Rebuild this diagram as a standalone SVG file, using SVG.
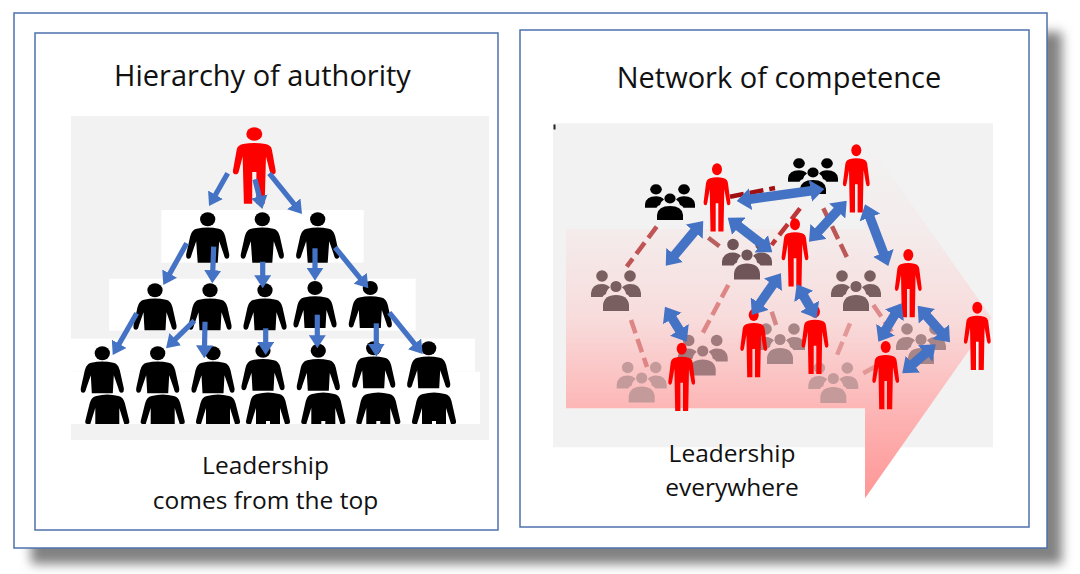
<svg xmlns="http://www.w3.org/2000/svg" xmlns:xlink="http://www.w3.org/1999/xlink" width="1080" height="574" viewBox="0 0 1080 574">
<style>
.frame{fill:#fff;stroke:#4f71ae;stroke-width:1.5}
.title{font-family:"Open Sans","Noto Sans",sans-serif;font-size:29px;fill:#111;text-anchor:middle}
.cap{font-family:"Open Sans","Noto Sans",sans-serif;font-size:24.5px;fill:#111;text-anchor:middle}
.a1{fill:none;stroke:#4472c4;stroke-width:5.2;marker-end:url(#h1)}
.a2{fill:none;stroke:#4472c4;stroke-width:9.5;marker-start:url(#h2);marker-end:url(#h2)}
.d{fill:none;stroke-width:4.5;stroke-dasharray:14 6}
.k{fill:#000}.r{fill:#f00}
</style>
<defs>
<filter id="sh" x="-5%" y="-5%" width="110%" height="110%"><feGaussianBlur stdDeviation="5.5"/></filter>
<filter id="sf" x="-10%" y="-10%" width="120%" height="120%"><feGaussianBlur stdDeviation="0.55"/></filter>
<linearGradient id="pink" gradientUnits="userSpaceOnUse" x1="0" y1="138" x2="0" y2="498">
<stop offset="0" stop-color="#f2f2f2"/><stop offset=".25" stop-color="#f4ecec"/><stop offset=".5" stop-color="#f8dcdc"/><stop offset=".75" stop-color="#fdb6b6"/><stop offset="1" stop-color="#ff9696"/>
</linearGradient>
<marker id="h1" markerUnits="userSpaceOnUse" viewBox="0 0 13 17" markerWidth="13" markerHeight="17" refX="2" refY="8.5" orient="auto"><path d="M0,0L13,8.5L0,17Z" fill="#4472c4"/></marker>
<marker id="h2" markerUnits="userSpaceOnUse" viewBox="0 0 14 22" markerWidth="14" markerHeight="22" refX="1" refY="11" orient="auto-start-reverse"><path d="M0,0L14,11L0,22Z" fill="#4472c4"/></marker>
<g id="blk">
<ellipse cx="0" cy="0" rx="7.6" ry="7"/>
<path d="M-11,9.5Q0,7 11,9.5Q16,10.5 17.5,17L21.5,35Q22,39.5 19,39.5Q17,39.5 16,35L11.5,22L10.5,40L-10.5,40L-11.5,22L-16,35Q-17,39.5 -19,39.5Q-22,39.5 -21.5,35L-17.5,17Q-16,10.5 -11,9.5Z"/>
</g>
<g id="blkT">
<ellipse cx="0" cy="0" rx="7.6" ry="7"/>
<path d="M-11,9.5Q0,7 11,9.5Q16,10.5 17.5,17L21.5,35Q22,39.5 19,39.5Q17,39.5 16,35L11.5,22L10,43.5L-10,43.5L-11.5,22L-16,35Q-17,39.5 -19,39.5Q-22,39.5 -21.5,35L-17.5,17Q-16,10.5 -11,9.5Z"/>
</g>
<path id="low" d="M-11,2Q0,-1 11,2Q16,3 17.5,9L22,27Q22.5,30 20,30L17,30L12,14L12,30L-12,30L-12,14L-17,30L-20,30Q-22.5,30 -22,27L-17.5,9Q-16,3 -11,2Z"/>
<path id="low2" d="M-11,2Q0,-1 11,2Q16,3 17.5,9L22,29Q22.5,32 20,32L17,32L12,16L12,32L2,32L2,29L-2,29L-2,32L-12,32L-12,16L-17,32L-20,32Q-22.5,32 -22,29L-17.5,9Q-16,3 -11,2Z"/>
<g id="man">
<ellipse cx="0" cy="0" rx="5" ry="6"/>
<path d="M-7,9Q0,7 7,9Q10.5,10 11,14L13.4,33Q13.4,36 11.5,36Q10,36 9.6,33L7.3,20L6.5,62.3L1.3,62.3L1.3,34L-1.3,34L-1.3,62.3L-6.5,62.3L-7.3,20L-9.6,33Q-10,36 -11.5,36Q-13.4,36 -13.4,33L-11,14Q-10.5,10 -7,9Z"/>
</g>
<g id="crowd">
<circle cx="-14" cy="6" r="5.8"/><circle cx="14" cy="6" r="5.8"/><circle cx="0" cy="16.5" r="5.6"/>
<path d="M-25,27V23Q-24,14 -14,14Q-9,14 -6,17.5Q-9.5,20 -10,24Q-12.5,25 -13.5,27Z"/>
<path d="M25,27V23Q24,14 14,14Q9,14 6,17.5Q9.5,20 10,24Q12.5,25 13.5,27Z"/>
<path d="M-13,41V35Q-12,25 0,25Q12,25 13,35V41Z"/>
</g>
</defs>

<rect x="31" y="32" width="1031" height="532" fill="#828282" filter="url(#sh)"/>
<rect class="frame" x="14" y="13" width="1033" height="535"/>

<g id="panel-left">
<rect class="frame" x="35" y="33" width="463" height="497"/>
<text class="title" x="262.5" y="86">Hierarchy of authority</text>
<rect x="71" y="116" width="418" height="324" fill="#f2f2f2"/>
<rect x="161.3" y="210" width="202.4" height="52.7" fill="#fff"/>
<rect x="109" y="278.7" width="306.7" height="52" fill="#fff"/>
<rect x="71" y="338.7" width="404" height="33" fill="#fff"/>
<rect x="71" y="371.7" width="409" height="52.3" fill="#fff"/>
<text class="cap" x="265.5" y="474">Leadership</text>
<text class="cap" x="265.5" y="509">comes from the top</text>
</g>

<g id="node-top"><g class="r"><g transform="translate(254.3,134) scale(1.6,1.12)"><use href="#man"/></g></g></g>

<g id="hierarchy-row1" class="k">
<use id="n1a" href="#blkT" x="207.7" y="219.3"/><use id="n1b" href="#blkT" x="262.3" y="219.3"/><use id="n1c" href="#blkT" x="317.7" y="219.3"/>
</g>
<g id="hierarchy-row2" class="k">
<use id="n2a" href="#blk" x="155" y="290.3"/><use id="n2b" href="#blk" x="210" y="290.3"/><use id="n2c" href="#blk" x="265" y="290.3"/><use id="n2d" href="#blk" x="315" y="288"/><use id="n2e" href="#blk" x="370.3" y="288"/>
</g>
<g id="hierarchy-row3" class="k">
<use id="n3a" href="#blk" x="102.3" y="353.3"/><use id="n3b" href="#blk" x="157.7" y="353.3"/><use id="n3c" href="#blk" x="213" y="353.3"/><use id="n3d" href="#blk" x="263" y="350.7"/><use id="n3e" href="#blk" x="318.3" y="350.7"/><use id="n3f" href="#blk" x="373.7" y="348.3"/><use id="n3g" href="#blk" x="428.7" y="348.3"/>
</g>
<g id="hierarchy-row4" class="k">
<use id="n4a" href="#low" x="107.3" y="394"/><use id="n4b" href="#low" x="162.7" y="394"/><use id="n4c" href="#low" x="218" y="394"/>
<use id="n4d" href="#low2" x="268" y="392"/><use id="n4e" href="#low2" x="323.3" y="392"/><use id="n4f" href="#low2" x="378.3" y="392"/><use id="n4g" href="#low2" x="434" y="392"/>
</g>

<g id="connectors-left">
<path class="a1" d="M227.7,173.3L214.5,196.5"/>
<path class="a1" d="M255,179.3L259.7,198.3"/>
<path class="a1" d="M269.3,173.3L295.1,205.4"/>
<path class="a1" d="M186.7,243.3L168.7,275.4"/>
<path class="a1" d="M213.7,246.7L212.7,272.3"/>
<path class="a1" d="M262.7,261.7V277.3"/>
<path class="a1" d="M315,248.3V269.7"/>
<path class="a1" d="M335,247.3L361.4,279.8"/>
<path class="a1" d="M136.7,313.3L118.2,345.5"/>
<path class="a1" d="M194.3,320.7L173.9,340.6"/>
<path class="a1" d="M205,321.7L204.5,347.3"/>
<path class="a1" d="M265.7,328.3V344"/>
<path class="a1" d="M317.3,314.7V337.3"/>
<path class="a1" d="M376.3,323.3V345.7"/>
<path class="a1" d="M389.3,312.7L415.8,345.4"/>
</g>

<g id="panel-right">
<rect class="frame" x="520" y="30" width="509" height="497"/>
<text class="title" x="779" y="88">Network of competence</text>
<rect x="553" y="123.3" width="440" height="324" fill="#f2f2f2"/>
<path d="M553.5,124.5l2,0l0,5l-2,0z" fill="#222"/>
<path d="M566,229H865V138L991.7,318L865,498.3V408.3H566Z" fill="url(#pink)"/>
<text class="cap" x="732" y="462">Leadership</text>
<text class="cap" x="732" y="496">everywhere</text>
</g>

<g id="dashed-links">
<path class="d" stroke="#a01010" d="M730,196.7L775,188"/>
<path class="d" stroke="#c05555" d="M656.7,226.7L626.7,266.7"/>
<path class="d" stroke="#b86060" d="M708.3,237.7L720,246.7"/>
<path class="d" stroke="#c03535" d="M800,208.3L771.7,245"/>
<path class="d" stroke="#bd5858" d="M823.3,208.3L848.3,260"/>
<path class="d" stroke="#de8585" d="M728.3,285L701.7,335"/>
<path class="d" stroke="#de8585" d="M631,320L647,367"/>
<path class="d" stroke="#d58888" d="M771.7,311.7L776.7,326.7"/>
<path class="d" stroke="#dc8a8a" d="M873.3,305L891.7,331.7"/>
<path class="d" stroke="#e39898" d="M850,323.3L835,360"/>
<path class="d" stroke="#e39898" d="M863.3,373.3L875,366.7"/>
</g>

<g id="group-1" filter="url(#sf)"><use href="#crowd" transform="translate(670,184) scale(1,.88)" fill="#000"/></g>
<g id="group-2" filter="url(#sf)"><use href="#crowd" transform="translate(813,158) scale(1,.88)" fill="#000"/></g>
<g id="group-3" filter="url(#sf)"><use href="#crowd" x="616" y="270" fill="#7a5e60"/></g>
<g id="group-4" filter="url(#sf)"><use href="#crowd" x="747" y="238.5" fill="#705558"/></g>
<g id="group-5" filter="url(#sf)"><use href="#crowd" x="856" y="270" fill="#7a5e60"/></g>
<g id="group-6" filter="url(#sf)"><use href="#crowd" x="702.7" y="334.5" fill="#a07a7c"/></g>
<g id="group-7" filter="url(#sf)"><use href="#crowd" x="641.7" y="361.5" fill="#c59a9a"/></g>
<g id="group-8" filter="url(#sf)"><use href="#crowd" x="780" y="323" fill="#a88586"/></g>
<g id="group-9" filter="url(#sf)"><use href="#crowd" x="921" y="323" fill="#a88586"/></g>
<g id="group-10" filter="url(#sf)"><use href="#crowd" x="833.3" y="362" fill="#c59a9a"/></g>

<g id="person-1" class="r"><use href="#man" x="717" y="169.3"/></g>
<g id="person-2" class="r"><use href="#man" x="856.3" y="150.3"/></g>
<g id="person-3" class="r"><use href="#man" x="795" y="224.3"/></g>
<g id="person-4" class="r"><use href="#man" x="908.3" y="255"/></g>
<g id="person-5" class="r"><use href="#man" x="977.3" y="307.7"/></g>
<g id="person-6" class="r"><use href="#man" x="753.7" y="315"/></g>
<g id="person-7" class="r"><use href="#man" x="815" y="311.7"/></g>
<g id="person-8" class="r"><use href="#man" x="885.7" y="347"/></g>
<g id="person-9" class="r"><use href="#man" x="681.7" y="348.7"/></g>

<g id="connectors-right">
<path class="a2" d="M749.6,199.2L811.4,190.8"/>
<path class="a2" d="M694.9,230.9L674.1,255.8"/>
<path class="a2" d="M738,225.7L762,244.3"/>
<path class="a2" d="M837.9,210.3L817.8,232.1"/>
<path class="a2" d="M869.6,216.5L883.7,253.8"/>
<path class="a2" d="M773.5,283.9L759.2,304.4"/>
<path class="a2" d="M803.3,295.5L810.1,307.1"/>
<path class="a2" d="M671.8,317.7L679.9,330.7"/>
<path class="a2" d="M894.9,314.4L885.1,330.6"/>
<path class="a2" d="M926.3,315.5L941.4,332.5"/>
<path class="a2" d="M925.9,352.8L912.1,364.8"/>
</g>
</svg>
